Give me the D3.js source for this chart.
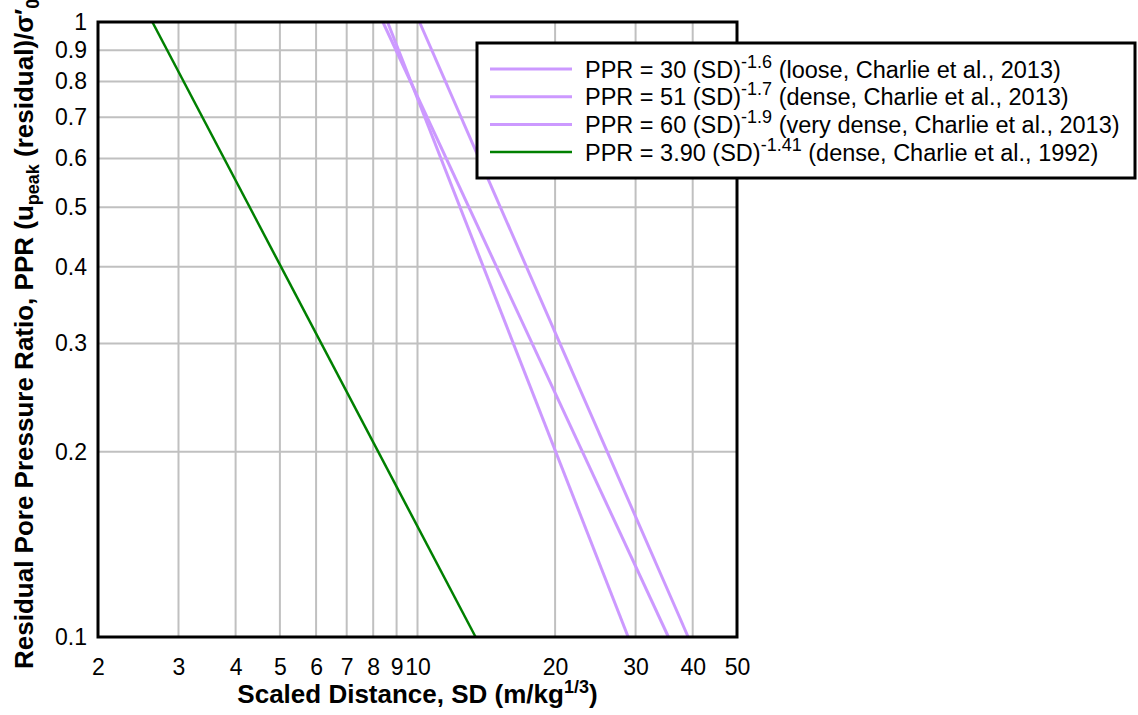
<!DOCTYPE html>
<html>
<head>
<meta charset="utf-8">
<script src="https://cdn.jsdelivr.net/npm/d3@7"></script>
<style>
  body { margin: 0; background: #fff; }
  text { font-family: "Liberation Sans", Arial, sans-serif; }
</style>
</head>
<body>
<div id="chart"></div>
<script>
// tick values for the log axes
const xTicks = [2, 3, 4, 5, 6, 7, 8, 9, 10, 20, 30, 40, 50];
const yTicks = [0.1, 0.2, 0.3, 0.4, 0.5, 0.6, 0.7, 0.8, 0.9, 1];

// each correlation is straight on log-log, so two end points (SD, PPR)
const looseLine = [[8.4, 1], [35.4, 0.1]];
const denseLine = [[10.1, 1], [39.1, 0.1]];
const veryDenseLine = [[8.6, 1], [28.9, 0.1]];
const dense1992Line = [[2.63, 1], [13.4, 0.1]];

const legendCoef = ["30", "51", "60", "3.90"];
const legendExp = ["-1.6", "-1.7", "-1.9", "-1.41"];
const legendNote = ["(loose, Charlie et al., 2013)", "(dense, Charlie et al., 2013)",
  "(very dense, Charlie et al., 2013)", "(dense, Charlie et al., 1992)"];
const seriesColors = ["#cc99ff", "#cc99ff", "#cc99ff", "#008000"];

const width = 1138, height = 715;
const margin = {left: 98, right: 401, top: 22, bottom: 78};
const fontFam = "Liberation Sans, Arial, sans-serif";

const svg = d3.select("#chart").append("svg")
    .attr("width", width)
    .attr("height", height);

const x = d3.scaleLog().domain([2, 50]).range([margin.left, width - margin.right]);
const y = d3.scaleLog().domain([0.1, 1]).range([height - margin.bottom, margin.top]);

// grid
svg.append("g")
    .selectAll("line")
    .data(xTicks.slice(1, -1))
    .join("line")
    .attr("x1", d => x(d)).attr("x2", d => x(d))
    .attr("y1", y(1)).attr("y2", y(0.1))
    .attr("stroke", "#c0c0c0").attr("stroke-width", 2);

svg.append("g")
    .selectAll("line")
    .data(yTicks.slice(1, -1))
    .join("line")
    .attr("x1", x(2)).attr("x2", x(50))
    .attr("y1", d => y(d)).attr("y2", d => y(d))
    .attr("stroke", "#c0c0c0").attr("stroke-width", 2);

// series
const allLines = [looseLine, denseLine, veryDenseLine, dense1992Line];
const lineGen = d3.line().x(d => x(d[0])).y(d => y(d[1]));
svg.append("g")
    .selectAll("path")
    .data(allLines)
    .join("path")
    .attr("d", lineGen)
    .attr("fill", "none")
    .attr("stroke", (d, i) => seriesColors[i])
    .attr("stroke-width", (d, i) => i == 3 ? 2.5 : 3);

// frame
svg.append("rect")
    .attr("x", x(2)).attr("y", y(1))
    .attr("width", x(50) - x(2)).attr("height", y(0.1) - y(1))
    .attr("fill", "none").attr("stroke", "#000").attr("stroke-width", 3);

// axes (ticks hidden, only labels)
const xAxis = svg.append("g")
    .attr("transform", `translate(0,${y(0.1)})`)
    .call(d3.axisBottom(x).tickValues(xTicks).tickFormat(d3.format("d")).tickSize(0).tickPadding(22));
xAxis.select(".domain").remove();
xAxis.selectAll("text").attr("font-size", 23).attr("fill", "#000")
    .style("font-family", fontFam);

const yAxis = svg.append("g")
    .attr("transform", `translate(${x(2)},0)`)
    .call(d3.axisLeft(y).tickValues(yTicks).tickFormat(d => d == 1 ? "1" : d3.format(".1f")(d)).tickSize(0).tickPadding(11));
yAxis.select(".domain").remove();
yAxis.selectAll("text").attr("font-size", 23).attr("fill", "#000")
    .style("font-family", fontFam);

// axis titles
const xTitle = svg.append("text")
    .attr("x", (x(2) + x(50)) / 2)
    .attr("y", 703)
    .attr("text-anchor", "middle")
    .attr("font-size", 26)
    .attr("font-weight", "bold");
xTitle.append("tspan").text("Scaled Distance, SD (m/kg");
xTitle.append("tspan").attr("dy", -10).attr("font-size", 18).text("1/3");
xTitle.append("tspan").attr("dy", 10).text(")");

const yTitle = svg.append("text")
    .attr("transform", `translate(33,${(y(1) + y(0.1)) / 2}) rotate(-90)`)
    .attr("text-anchor", "middle")
    .attr("font-size", 26)
    .attr("font-weight", "bold");
yTitle.append("tspan").text("Residual Pore Pressure Ratio, PPR (u");
yTitle.append("tspan").attr("dy", 6).attr("font-size", 18).text("peak");
yTitle.append("tspan").attr("dy", -6).text(" (residual)/σ′");
yTitle.append("tspan").attr("dy", 6).attr("font-size", 18).text("0");
yTitle.append("tspan").attr("dy", -6).text(")");

// legend
const legend = svg.append("g");
legend.append("rect")
    .attr("x", 477).attr("y", 43)
    .attr("width", 658).attr("height", 135)
    .attr("fill", "#fff").attr("stroke", "#000").attr("stroke-width", 3);

const items = legend.selectAll("g.item")
    .data(legendCoef)
    .join("g")
    .attr("class", "item")
    .attr("transform", (d, i) => `translate(490,${69 + i * 27.7})`);

items.append("line")
    .attr("x1", 0).attr("x2", 82)
    .attr("stroke", (d, i) => seriesColors[i])
    .attr("stroke-width", (d, i) => i == 3 ? 2.5 : 3);

const lt = items.append("text")
    .attr("x", 95).attr("y", 8.5)
    .attr("font-size", 23.5);
lt.append("tspan").text(d => `PPR = ${d} (SD)`);
lt.append("tspan").attr("dy", -10).attr("font-size", 18).text((d, i) => legendExp[i]);
lt.append("tspan").attr("dy", 10).text((d, i) => " " + legendNote[i]);
</script>
</body>
</html>
